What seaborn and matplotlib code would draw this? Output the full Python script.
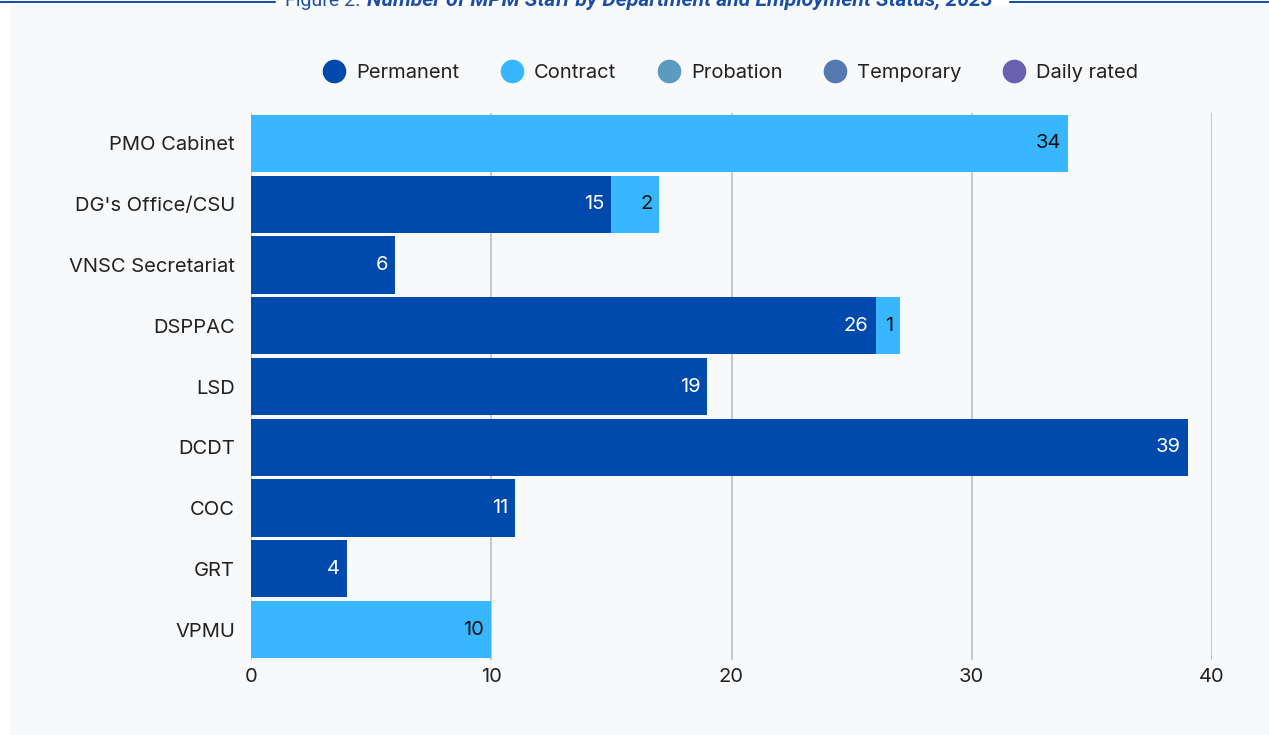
import matplotlib
matplotlib.use("Agg")
import matplotlib.pyplot as plt
from matplotlib.lines import Line2D
from matplotlib.patches import Rectangle
import numpy as np
import pandas as pd
import seaborn as sns

# Staff counts by department and employment status
departments = ["PMO Cabinet", "DG's Office/CSU", "VNSC Secretariat", "DSPPAC",
               "LSD", "DCDT", "COC", "GRT", "VPMU"]
permanent = [0, 15, 6, 26, 19, 39, 11, 4, 0]
contract = [34, 2, 0, 1, 0, 0, 0, 0, 10]
probation = [0, 0, 0, 0, 0, 0, 0, 0, 0]
temporary = [0, 0, 0, 0, 0, 0, 0, 0, 0]
daily_rated = [0, 0, 0, 0, 0, 0, 0, 0, 0]

statuses = ["Permanent", "Contract", "Probation", "Temporary", "Daily rated"]
colors = ["#004aad", "#38b6ff", "#5b9bc0", "#5578b0", "#6a5fb0"]
label_colors = ["#ffffff", "#111111", "#111111", "#ffffff", "#ffffff"]
x_ticks = [0, 10, 20, 30, 40]

sns.set_theme(style="white")
plt.rcParams["font.family"] = ["Inter", "DejaVu Sans"]

df = pd.DataFrame({"Department": departments, "Permanent": permanent,
                   "Contract": contract, "Probation": probation,
                   "Temporary": temporary, "Daily rated": daily_rated})
cum = df[statuses].cumsum(axis=1)

fig = plt.figure(figsize=(12.69, 7.35), dpi=100, facecolor="white")
fig.patches.append(Rectangle((10 / 1269, 0), 1, 1 - 5 / 735, transform=fig.transFigure,
                             facecolor="#f8f9fb", edgecolor="none", zorder=-10))

ax = fig.add_axes([251 / 1269, 1 - 660 / 735, (1212 - 251) / 1269, (660 - 113) / 735])
ax.set_facecolor("none")

# Stacked bars: draw cumulative totals from the outermost layer inward
for status, color in reversed(list(zip(statuses, colors))):
    plot_df = pd.DataFrame({"Department": departments, "value": cum[status]})
    sns.barplot(data=plot_df, y="Department", x="value", order=departments,
                color=color, width=0.94, linewidth=0, saturation=1,
                orient="h", ax=ax, zorder=3)

# Segment value labels inside the right end of each segment
for i, dep in enumerate(departments):
    for status, tcol in zip(statuses, label_colors):
        val = df.loc[i, status]
        if val > 0:
            ax.annotate(f"{val}", xy=(cum.loc[i, status], i), xytext=(-5, 0),
                        textcoords="offset points", ha="right", va="center",
                        fontsize=14.5, color=tcol, zorder=5)

ax.set_xlim(0, 40)
ax.set_ylim(8.5, -0.5)
ax.set_xticks(x_ticks)
ax.set_xticklabels([str(t) for t in x_ticks])
ax.set_xlabel("")
ax.set_ylabel("")
ax.grid(axis="x", color="#c9c9c9", linewidth=1.5, zorder=0)
ax.grid(axis="y", visible=False)
ax.set_axisbelow(True)
for s in ax.spines.values():
    s.set_visible(False)
ax.tick_params(axis="x", length=0, pad=6, labelsize=14.5, labelcolor="#222222")
ax.tick_params(axis="y", length=0, pad=11.5, labelsize=14.5, labelcolor="#222222")

# Legend with circular markers
handles = [Line2D([0], [0], marker="o", linestyle="none", markersize=16,
                  markerfacecolor=c, markeredgecolor=c) for c in colors]
fig.legend(handles, statuses, loc="center", bbox_to_anchor=(726 / 1269, 1 - 73 / 735),
           ncol=5, frameon=False, fontsize=14.5, handletextpad=0.1,
           columnspacing=1.6, labelcolor="#222222")

# Figure heading with rule lines on either side
title_y = 1 - 6 / 735
fig.add_artist(Line2D([0, 275 / 1269], [1 - 1.5 / 735] * 2, color="#1a4fa8",
                      linewidth=1.5, transform=fig.transFigure))
fig.add_artist(Line2D([1010 / 1269, 1], [1 - 1.5 / 735] * 2, color="#1a4fa8",
                      linewidth=1.5, transform=fig.transFigure))
fig.text(285 / 1269, title_y, "Figure 2.", ha="left", va="baseline",
         fontsize=14, color="#1a4fa8", family=["Roboto", "DejaVu Sans"])
fig.text(367 / 1269, title_y,
         "Number of MPM Staff by Department and Employment Status, 2023",
         ha="left", va="baseline", fontsize=15.2, color="#1a4fa8",
         fontweight="bold", fontstyle="italic", family=["Roboto", "DejaVu Sans"])

fig.savefig("out.png", dpi=100, facecolor="white")
